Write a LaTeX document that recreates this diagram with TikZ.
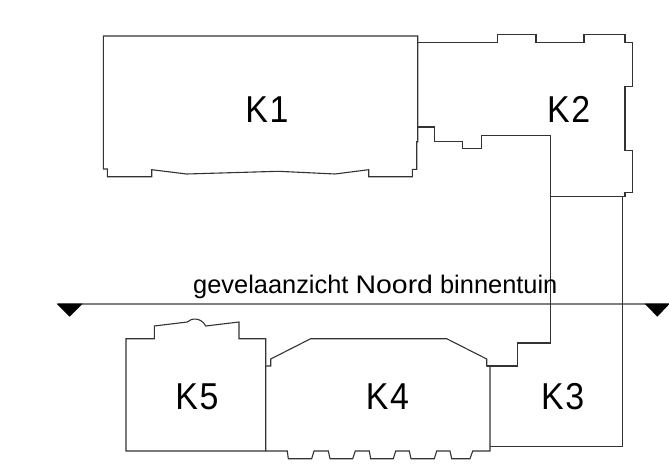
\documentclass[tikz,border=0pt]{standalone}
\usepackage{fontspec}
\setmainfont{Liberation Sans}
\newcommand{\biglab}[2]{\scalebox{1.06}[1.17]{\fontsize{32}{36}\selectfont #1\kern1.5pt #2}}
\tikzset{
  wall/.style={draw=black!80,line width=1.1pt,line join=miter},
  sectionline/.style={draw=black!50,line width=1.9pt},
  biglabel/.style={text=black,inner sep=0pt,anchor=center},
  viewlabel/.style={font=\fontsize{25.4}{28}\selectfont,text=black,inner sep=0pt,anchor=base west},
  marker/.style={fill=black,draw=none}
}
\begin{document}
\begin{tikzpicture}[x=1pt,y=-1pt]
\useasboundingbox (0,0) rectangle (669,471);
% section line
\draw[sectionline] (58,303.7) -- (669,303.7);
% K1
\draw[wall] (417.7,141.7) -- (417.7,36) -- (103.3,36) -- (103.3,169) -- (107.3,169) -- (107.3,176.7) -- (151.7,176.7) -- (151.7,169.7) -- (186.7,174) -- (278.3,171.3) -- (335,174) -- (368.7,169.7) -- (368.7,176.7) -- (412.3,176.7) -- (412.3,169.3) -- (416.7,169.3) -- (416.7,141.7) -- cycle;
% K2
\draw[wall] (417.7,42.3) -- (497.7,42.3) -- (497.7,34.7) -- (536,34.7) -- (536,42.3) -- (584,42.3) -- (584,34.7) -- (625,34.7) -- (625,42.3) -- (632.7,42.3) -- (632.7,86.7) -- (625,86.7) -- (625,150.3) -- (632.7,150.3) -- (632.7,192.7) -- (625,192.7) -- (625,196.7) -- (550.4,196.7) -- (550.4,135.3) -- (481.7,135.3) -- (481.7,148.3) -- (462.3,148.3) -- (462.3,141.3) -- (434.3,141.3) -- (434.3,127) -- (417.7,127);
% K3
\draw[wall] (550.4,196.7) -- (550.4,343) -- (517.3,343) -- (517.3,366) -- (486.7,366);
\draw[wall] (622.3,196.7) -- (622.3,446.7) -- (490,446.7);
% K4
\draw[wall] (265.7,366) -- (270.7,366) -- (270.7,359) -- (310.7,338.7) -- (446.7,338.7) -- (486.7,359) -- (486.7,366) -- (490,366) -- (490,451) -- (472.7,451) -- (470,458.7) -- (451.7,458.7) -- (450,451) -- (436.7,451) -- (434.3,458.7) -- (411,458.7) -- (409.3,451) -- (395.7,451) -- (393.3,458.7) -- (370.7,458.7) -- (369.3,451) -- (355.3,451) -- (352.7,458.7) -- (330,458.7) -- (328.3,451) -- (314,451) -- (311.7,458.7) -- (288.3,458.7) -- (287.3,451) -- (265.7,451);
% K5
\draw[wall] (126,451) -- (126,338.7) -- (154.3,338.7) -- (154.3,326) -- (187.3,322) .. controls (191,318) and (201,317) .. (205.7,326) -- (239,322) -- (239,338.7) -- (265.7,338.7) -- (265.7,451) -- cycle;
% markers
\fill[marker] (56.7,303.7) -- (82.7,303.7) -- (69.7,316.7) -- cycle;
\fill[marker] (644.7,303.7) -- (669.7,303.7) -- (657.3,316.7) -- cycle;
% labels
\node[biglabel] (k1) at (267,109.7) {\biglab{K}{1}};
\node[biglabel] (k2) at (568.7,109.7) {\biglab{K}{2}};
\node[biglabel] (k3) at (562.7,396.3) {\biglab{K}{3}};
\node[biglabel] (k4) at (387.5,396.3) {\biglab{K}{4}};
\node[biglabel] (k5) at (197,396.3) {\biglab{K}{5}};
\node[viewlabel] (view) at (193,293.2) {gevelaanzicht \scalebox{1.12}[1]{Noord} binnentuin};
\end{tikzpicture}
\end{document}
